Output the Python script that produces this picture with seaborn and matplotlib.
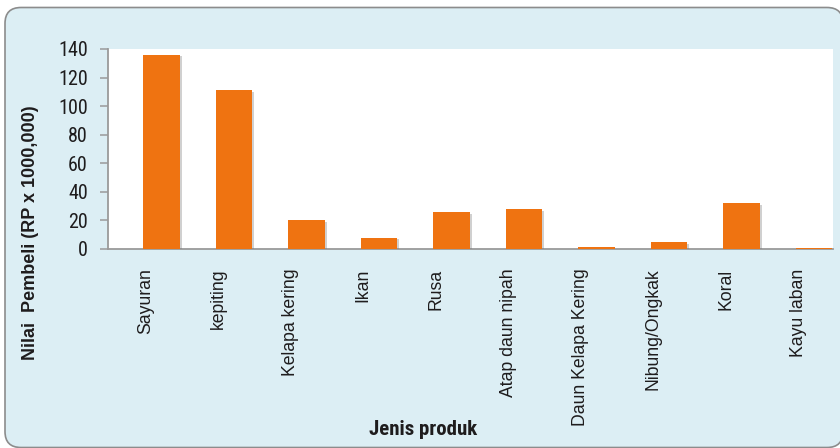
import matplotlib
matplotlib.use("Agg")
import matplotlib.pyplot as plt
import matplotlib.patheffects as pe
import matplotlib.transforms as mtransforms
from matplotlib.patches import FancyBboxPatch
import pandas as pd
import seaborn as sns

# Purchase value by product type
produk = ["Sayuran", "kepiting", "Kelapa kering", "Ikan", "Rusa",
          "Atap daun nipah", "Daun Kelapa Kering", "Nibung/Ongkak",
          "Koral", "Kayu laban"]
nilai = [136, 111, 20, 8, 26, 28, 1.5, 5, 32, 1]
y_ticks = [0, 20, 40, 60, 80, 100, 120, 140]

df = pd.DataFrame({"Jenis produk": produk, "Nilai": nilai})

sns.set_style("white")
plt.rcParams["font.family"] = ["Liberation Sans", "DejaVu Sans"]
narrow = ["Roboto Condensed", "Liberation Sans", "DejaVu Sans"]

text_col = "#1E1C1D"
bar_col = "#EF7311"
axis_col = "#9A9A9A"

fig = plt.figure(figsize=(8.4, 4.48), dpi=100)
fig.patch.set_facecolor("white")

# rounded light-blue panel behind the chart
panel = FancyBboxPatch((5 / 840, 0.5 / 448), 838 / 840, 440 / 448,
                       boxstyle="round,pad=0,rounding_size=0.019",
                       transform=fig.transFigure, facecolor="#DCEEF4",
                       edgecolor="#8C8C8C", linewidth=1.2,
                       mutation_aspect=840 / 448, zorder=-5)
fig.patches.append(panel)

ax = fig.add_axes([108 / 840, 1 - 249 / 448, 725 / 840, 200 / 448])
ax.set_facecolor("white")

sns.barplot(data=df, x="Jenis produk", y="Nilai", color=bar_col,
            saturation=1, width=0.51, ax=ax, zorder=3)
for p in ax.patches:
    p.set_edgecolor("none")
    p.set_path_effects([pe.SimplePatchShadow(offset=(1.2, -1.2),
                                             shadow_rgbFace="#7a7a7a", alpha=0.35),
                        pe.Normal()])

ax.set_ylim(0, 140)
ax.set_xlim(-0.738, len(produk) - 0.738)
ax.set_yticks(y_ticks)
ax.set_yticklabels([str(v) for v in y_ticks], fontsize=14.5,
                   family=narrow, color=text_col)
ax.set_xticks(range(len(produk)))
ax.set_xticklabels(produk, rotation=90, fontsize=12.7, color=text_col)

ax.tick_params(axis="y", length=5.5, width=1.1, color=axis_col, pad=9, direction="out", left=True)
ax.tick_params(axis="x", length=0, pad=14)

# category labels sit a little left of their bars
shift = mtransforms.ScaledTranslation(-16 / 100, 0, fig.dpi_scale_trans)
for lab in ax.get_xticklabels():
    lab.set_transform(lab.get_transform() + shift)

for s in ["top", "right"]:
    ax.spines[s].set_visible(False)
for s in ["left", "bottom"]:
    ax.spines[s].set_color(axis_col)
    ax.spines[s].set_linewidth(1.3)

ax.set_xlabel("")
ax.set_ylabel("")
fig.text(423 / 840, 1 - 429 / 448, "Jenis produk", ha="center", va="center",
         fontsize=15, fontweight="bold", family=narrow, color=text_col)
fig.text(31 / 840, 1 - 233 / 448, "Nilai  Pembeli (RP x 1000,000)", ha="center",
         va="center", rotation=90, fontsize=13, fontweight="bold", color=text_col)

fig.savefig("out.png", dpi=100, facecolor="white")
